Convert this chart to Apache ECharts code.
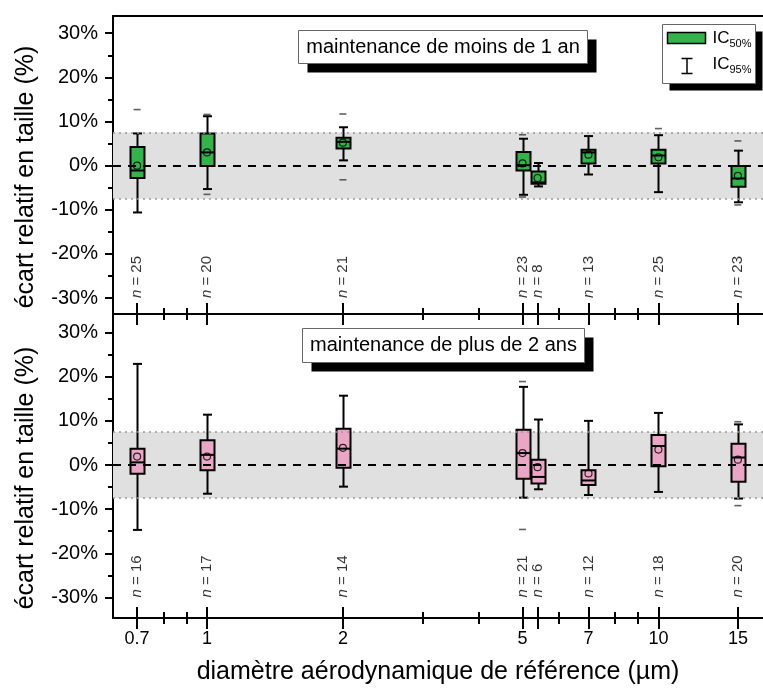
<!DOCTYPE html>
<html><head><meta charset="utf-8">
<script src="https://cdn.jsdelivr.net/npm/echarts@6/dist/echarts.min.js"></script>
<style>html,body{margin:0;padding:0;background:#fff}#c{width:763px;height:689px}</style>
</head><body><div id="c"></div>
<script>
// ---------- data ----------
const diameters = [0.7, 1, 2, 5, 5.4, 7, 10, 15];
const tickLabels = [0.7, 1, 2, 5, 7, 10, 15];
const majorTicks = [0.7, 1, 2, 5, 5.4, 7, 10, 15];
const minorTicks = [0.8, 0.9, 3, 4, 6, 8, 9];
const yLabels = [-30, -20, -10, 0, 10, 20, 30];
const yMinor = [-25, -15, -5, 5, 15, 25];

// [whisker low (IC95), q1, median, q3 (IC50), whisker high (IC95)]
const boxesLess1 = [
  [-10.6, -2.8, -1.1, 4.25, 7.3],
  [-5.3, -0.1, 3.0, 7.3, 11.2],
  [1.2, 3.9, 5.4, 6.3, 8.7],
  [-6.6, -1.1, 0.1, 3.1, 6.1],
  [-4.7, -4.1, -3.8, -1.3, 0.6],
  [-2.0, 0.5, 3.0, 3.6, 6.7],
  [-6.0, 0.5, 2.3, 3.6, 6.9],
  [-8.3, -4.8, -2.9, -0.1, 3.4]
];
const meansLess1 = [0.0, 3.0, 5.2, 0.5, -2.8, 2.5, 1.9, -2.3];
const outliersLess1 = [[0.7, 12.7], [1, 11.6], [1, -6.5], [2, 11.7], [2, -3.2], [5, 7.0], [5, -7.1], [10, 8.4], [15, 5.6], [15, -8.9]];
const nLess1 = [25, 20, 21, 23, 8, 13, 25, 23];

const boxesMore2 = [
  [-14.7, -2.0, 0.6, 3.7, 22.9],
  [-6.5, -1.2, 2.3, 5.6, 11.4],
  [-4.9, -0.6, 3.7, 8.2, 15.7],
  [-7.4, -3.1, 2.7, 8.0, 17.7],
  [-5.5, -4.2, -2.7, 1.2, 10.3],
  [-6.8, -4.5, -3.5, -1.2, 10.0],
  [-6.1, -0.3, 4.3, 6.8, 11.8],
  [-7.6, -3.8, 1.7, 4.8, 9.2]
];
const meansMore2 = [1.9, 1.9, 3.9, 2.7, -0.5, -1.9, 3.5, 1.2];
const outliersMore2 = [[5, 18.9], [5, -14.6], [15, 9.8], [15, -9.2]];
const nMore2 = [16, 17, 14, 21, 6, 12, 18, 20];

const bandLimit = 7.5;
const panelTitles = ['maintenance de moins de 1 an', 'maintenance de plus de 2 ans'];

// ---------- helpers ----------
const lg = v => Math.log10(v);
const X_MIN = lg(0.619), X_MAX = lg(17.05);
const FONT = 'Liberation Sans, Arial, sans-serif';
const GREEN = '#35b34b', PINK = '#eaa6c4';

function xAxisBase(grid, extra) {
  return Object.assign({
    type: 'value', gridIndex: grid, min: X_MIN, max: X_MAX, position: 'bottom',
    splitLine: {show: false}, axisLine: {show: false, onZero: false}, axisTick: {show: false}, axisLabel: {show: false}
  }, extra);
}
function tickAxis(grid, vals, len, inside) {
  return xAxisBase(grid, {axisTick: {show: true, inside: inside, length: len, customValues: vals.map(lg), lineStyle: {color: '#000', width: 2}}});
}

const xAxes = [
  // grid 0
  xAxisBase(0, {axisLine: {show: true, onZero: false, lineStyle: {color: '#000', width: 2}},
    axisTick: {show: true, length: 11, customValues: majorTicks.map(lg), lineStyle: {color: '#000', width: 2}}}),
  tickAxis(0, majorTicks, 11, true),
  tickAxis(0, minorTicks, 6, false),
  tickAxis(0, minorTicks, 6, true),
  xAxisBase(0, {position: 'top', axisLine: {show: true, onZero: false, lineStyle: {color: '#000', width: 2}}}),
  // grid 1
  xAxisBase(1, {axisLine: {show: true, onZero: false, lineStyle: {color: '#000', width: 2}},
    axisTick: {show: true, length: 11, customValues: majorTicks.map(lg), lineStyle: {color: '#000', width: 2}},
    axisLabel: {show: true, customValues: tickLabels.map(lg), margin: 12, color: '#000', fontSize: 18, fontFamily: FONT,
      formatter: v => String(+Math.pow(10, v).toFixed(1))},
    name: 'diamètre aérodynamique de référence (µm)', nameLocation: 'middle', nameGap: 42,
    nameTextStyle: {color: '#000', fontSize: 25, fontFamily: FONT}}),
  tickAxis(1, majorTicks, 11, true),
  tickAxis(1, minorTicks, 6, false),
  tickAxis(1, minorTicks, 6, true)
];

function yAxesFor(grid, min, max) {
  return [
    {type: 'value', gridIndex: grid, min: min, max: max, position: 'left', splitLine: {show: false},
      axisLine: {show: true, onZero: false, lineStyle: {color: '#000', width: 2}},
      axisTick: {show: true, length: 8, customValues: yLabels, lineStyle: {color: '#000', width: 2}},
      axisLabel: {show: true, customValues: yLabels, formatter: v => v + '%', color: '#000', fontSize: 20, fontFamily: FONT, margin: 15},
      name: 'écart relatif en taille (%)', nameLocation: 'middle', nameGap: 74,
      nameTextStyle: {color: '#000', fontSize: 25, fontFamily: FONT, padding: [0, 24, 0, 0]}},
    {type: 'value', gridIndex: grid, min: min, max: max, position: 'left', splitLine: {show: false},
      axisLine: {show: false, onZero: false}, axisLabel: {show: false},
      axisTick: {show: true, length: 5, customValues: yMinor, lineStyle: {color: '#000', width: 2}}}
  ];
}
const yAxes = yAxesFor(0, -33.6, 33.9).concat(yAxesFor(1, -34.65, 34.2));

function boxRenderer(color) {
  return function (params, api) {
    const x = api.value(0);
    const pLo = api.coord([x, api.value(1)]);
    const pQ1 = api.coord([x, api.value(2)]);
    const pMed = api.coord([x, api.value(3)]);
    const pQ3 = api.coord([x, api.value(4)]);
    const pHi = api.coord([x, api.value(5)]);
    const cx = Math.round(pLo[0]) + 0.5, hw = 7, cw = 4.5;
    const ls = {stroke: '#000', lineWidth: 2};
    return {type: 'group', children: [
      {type: 'line', shape: {x1: cx, y1: pHi[1], x2: cx, y2: pQ3[1]}, style: ls},
      {type: 'line', shape: {x1: cx, y1: pQ1[1], x2: cx, y2: pLo[1]}, style: ls},
      {type: 'line', shape: {x1: cx - cw, y1: pHi[1], x2: cx + cw, y2: pHi[1]}, style: ls},
      {type: 'line', shape: {x1: cx - cw, y1: pLo[1], x2: cx + cw, y2: pLo[1]}, style: ls},
      {type: 'rect', shape: {x: cx - hw, y: pQ3[1], width: 2 * hw, height: pQ1[1] - pQ3[1]}, style: {fill: color, stroke: '#000', lineWidth: 2}},
      {type: 'line', shape: {x1: cx - hw, y1: pMed[1], x2: cx + hw, y2: pMed[1]}, style: ls}
    ]};
  };
}

function panelSeries(xi, yi, boxes, means, outliers, ns, color) {
  return [
    { // band + reference lines
      type: 'scatter', xAxisIndex: xi, yAxisIndex: yi, data: [], z: 1, silent: true,
      markArea: {silent: true, itemStyle: {color: '#e0e0e0'}, data: [[{yAxis: -bandLimit}, {yAxis: bandLimit}]]},
      markLine: {silent: true, symbol: 'none', label: {show: false}, animation: false, data: [
        {yAxis: 0, lineStyle: {color: '#000', width: 2, type: [8, 7]}},
        {yAxis: bandLimit, lineStyle: {color: '#999', width: 1.5, type: [2, 4]}},
        {yAxis: -bandLimit, lineStyle: {color: '#999', width: 1.5, type: [2, 4]}}
      ]}
    },
    {
      type: 'custom', xAxisIndex: xi, yAxisIndex: yi, z: 3,
      renderItem: boxRenderer(color),
      data: boxes.map((b, i) => [lg(diameters[i])].concat(b))
    },
    {
      type: 'scatter', xAxisIndex: xi, yAxisIndex: yi, z: 4, symbol: 'circle', symbolSize: 7,
      itemStyle: {color: 'rgba(0,0,0,0)', borderColor: '#000', borderWidth: 1.2},
      data: means.map((m, i) => [lg(diameters[i]), m])
    },
    {
      type: 'scatter', xAxisIndex: xi, yAxisIndex: yi, z: 4, symbol: 'rect', symbolSize: [7, 1.6],
      itemStyle: {color: '#3a3a3a'},
      data: outliers.map(o => [lg(o[0]), o[1]])
    },
    {
      type: 'scatter', xAxisIndex: xi, yAxisIndex: yi, z: 4, symbolSize: 0, silent: true,
      data: ns.map((n, i) => [lg(diameters[i]), -30, n]),
      label: {show: true, position: [0, 0], rotate: 90, align: 'left', verticalAlign: 'middle',
        color: '#000', fontSize: 15, fontFamily: FONT,
        formatter: p => '{i|n} = ' + p.value[2],
        rich: {i: {fontStyle: 'italic', fontSize: 15, fontFamily: FONT, color: '#000'}}}
    }
  ];
}

function titleBox(x, y, w, h, text) {
  return {type: 'group', left: x, top: y, children: [
    {type: 'rect', shape: {x: 9, y: 9, width: w, height: h}, style: {fill: '#000'}},
    {type: 'rect', shape: {x: 0, y: 0, width: w, height: h}, style: {fill: '#fff', stroke: '#666', lineWidth: 1}},
    {type: 'text', x: w / 2, y: h / 2, style: {text: text, fill: '#000', font: '20px ' + FONT, align: 'center', verticalAlign: 'middle'}}
  ]};
}

const chart = echarts.init(document.getElementById('c'), null, {renderer: 'canvas'});
chart.setOption({
  animation: false,
  backgroundColor: '#fff',
  textStyle: {fontFamily: FONT},
  grid: [
    {left: 113, right: 0, top: 16, height: 298},
    {left: 113, right: 0, top: 314, height: 304}
  ],
  xAxis: xAxes,
  yAxis: yAxes,
  series: panelSeries(0, 0, boxesLess1, meansLess1, outliersLess1, nLess1, GREEN)
    .concat(panelSeries(5, 2, boxesMore2, meansMore2, outliersMore2, nMore2, PINK)),
  graphic: [
    titleBox(298, 30, 289, 33, panelTitles[0]),
    titleBox(302, 328, 282, 34, panelTitles[1]),
    {type: 'group', left: 662, top: 24, children: [
      {type: 'rect', shape: {x: 7, y: 7, width: 93, height: 59}, style: {fill: '#000'}},
      {type: 'rect', shape: {x: 0, y: 0, width: 93, height: 59}, style: {fill: '#fff', stroke: '#666', lineWidth: 1}},
      {type: 'rect', shape: {x: 5, y: 8, width: 38, height: 11}, style: {fill: GREEN, stroke: '#000', lineWidth: 1.5}},
      {type: 'text', x: 50, y: 14, style: {text: 'IC', fill: '#000', font: '17px ' + FONT, verticalAlign: 'middle'}},
      {type: 'text', x: 67, y: 19, style: {text: '50%', fill: '#000', font: '11px ' + FONT, verticalAlign: 'middle'}},
      {type: 'line', shape: {x1: 24.5, y1: 34, x2: 24.5, y2: 49}, style: {stroke: '#000', lineWidth: 1.5}},
      {type: 'line', shape: {x1: 19, y1: 34, x2: 30, y2: 34}, style: {stroke: '#000', lineWidth: 1.5}},
      {type: 'line', shape: {x1: 19, y1: 49, x2: 30, y2: 49}, style: {stroke: '#000', lineWidth: 1.5}},
      {type: 'text', x: 50, y: 40, style: {text: 'IC', fill: '#000', font: '17px ' + FONT, verticalAlign: 'middle'}},
      {type: 'text', x: 67, y: 45, style: {text: '95%', fill: '#000', font: '11px ' + FONT, verticalAlign: 'middle'}}
    ]}
  ]
});
</script>
</body></html>
